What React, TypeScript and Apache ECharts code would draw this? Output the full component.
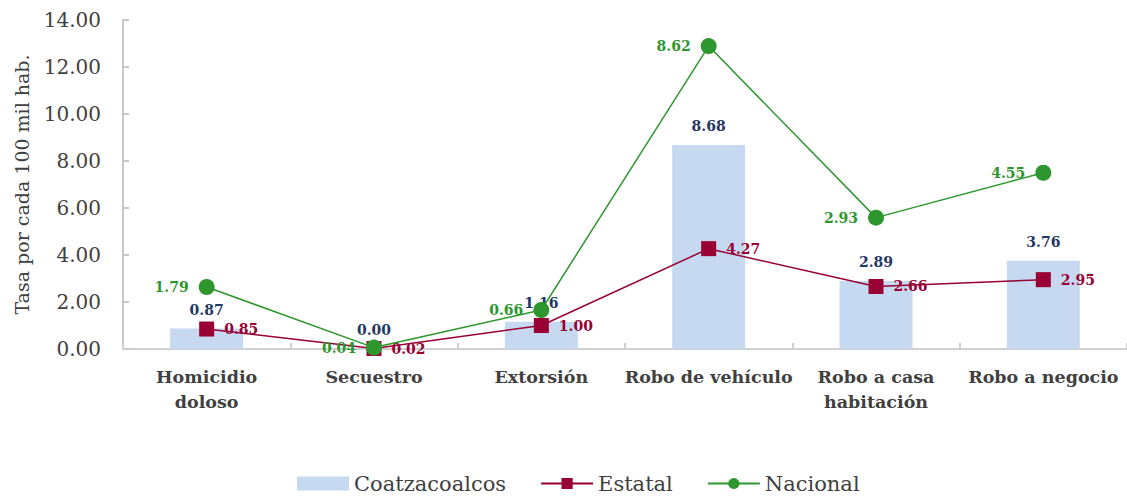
import React, { useEffect, useRef } from "react";
import * as echarts from "echarts";

const categories = ["Homicidio\ndoloso", "Secuestro", "Extorsión", "Robo de vehículo", "Robo a casa\nhabitación", "Robo a negocio"];
const coatzacoalcos = [0.87, 0.0, 1.16, 8.68, 2.89, 3.76];
const estatal = [0.85, 0.02, 1.0, 4.27, 2.66, 2.95];
const nacional = [1.79, 0.04, 0.66, 8.62, 2.93, 4.55];
const yTicks = { min: 0, max: 14, interval: 2 };

const FONT = "DejaVu Serif";

export default function App() {
  const ref = useRef<HTMLDivElement>(null);
  useEffect(() => {
    if (!ref.current) return;
    const chart = echarts.init(ref.current, null, { renderer: "svg" });
    const fmt = (p: any) => Number(p.value).toFixed(2);
    chart.setOption({
      animation: false,
      textStyle: { fontFamily: FONT },
      grid: { left: 123, top: 20, right: 0, bottom: 148, containLabel: false },
      legend: {
        top: 468,
        left: 292,
        itemGap: 34,
        itemWidth: 52,
        itemHeight: 14,
        textStyle: { fontFamily: FONT, fontSize: 21, color: "#404040" },
        data: [
          { name: "Coatzacoalcos", icon: "rect" },
          { name: "Estatal" },
          { name: "Nacional" },
        ],
      },
      xAxis: {
        type: "category",
        data: categories,
        boundaryGap: true,
        axisLine: { lineStyle: { color: "#d0d0d0", width: 2 } },
        axisTick: { show: true, inside: true, length: 6, lineStyle: { color: "#d0d0d0", width: 2 } },
        axisLabel: {
          interval: 0,
          margin: 15,
          fontFamily: FONT,
          fontSize: 17.5,
          fontWeight: "bold",
          color: "#404040",
          lineHeight: 25,
        },
      },
      yAxis: {
        type: "value",
        min: yTicks.min,
        max: yTicks.max,
        interval: yTicks.interval,
        name: "Tasa por cada 100 mil hab.",
        nameLocation: "middle",
        nameGap: 92,
        nameTextStyle: { fontFamily: FONT, fontSize: 19, color: "#404040" },
        splitLine: { show: false },
        axisLine: { show: true, lineStyle: { color: "#c8c8c8", width: 2 } },
        axisTick: { show: true, inside: true, length: 6, lineStyle: { color: "#c8c8c8", width: 2 } },
        axisLabel: {
          margin: 22,
          fontFamily: FONT,
          fontSize: 20,
          color: "#404040",
          formatter: (v: number) => v.toFixed(2),
        },
      },
      series: [
        {
          name: "Coatzacoalcos",
          type: "bar",
          data: coatzacoalcos,
          barWidth: 73,
          itemStyle: { color: "#c6d9f1" },
          label: {
            show: true,
            position: "top",
            distance: 12,
            formatter: fmt,
            fontFamily: FONT,
            fontSize: 14,
            fontWeight: "bold",
            color: "#1f3864",
          },
          z: 1,
        },
        {
          name: "Estatal",
          type: "line",
          stack: "total",
          data: estatal,
          symbol: "rect",
          symbolSize: 15,
          lineStyle: { color: "#990033", width: 1.5 },
          itemStyle: { color: "#990033" },
          label: {
            show: true,
            position: "right",
            distance: 10,
            formatter: fmt,
            fontFamily: FONT,
            fontSize: 14,
            fontWeight: "bold",
            color: "#990033",
          },
          z: 3,
        },
        {
          name: "Nacional",
          type: "line",
          stack: "total",
          data: nacional,
          symbol: "circle",
          symbolSize: 16,
          lineStyle: { color: "#2e962e", width: 1.5 },
          itemStyle: { color: "#2e962e" },
          label: {
            show: true,
            position: "left",
            distance: 10,
            formatter: fmt,
            fontFamily: FONT,
            fontSize: 14,
            fontWeight: "bold",
            color: "#2e962e",
          },
          z: 4,
        },
      ],
    });
    return () => chart.dispose();
  }, []);
  return (
    <div
      ref={ref}
      style={{ position: "fixed", left: 0, top: 0, width: 1127, height: 497, background: "#fff" }}
    />
  );
}
